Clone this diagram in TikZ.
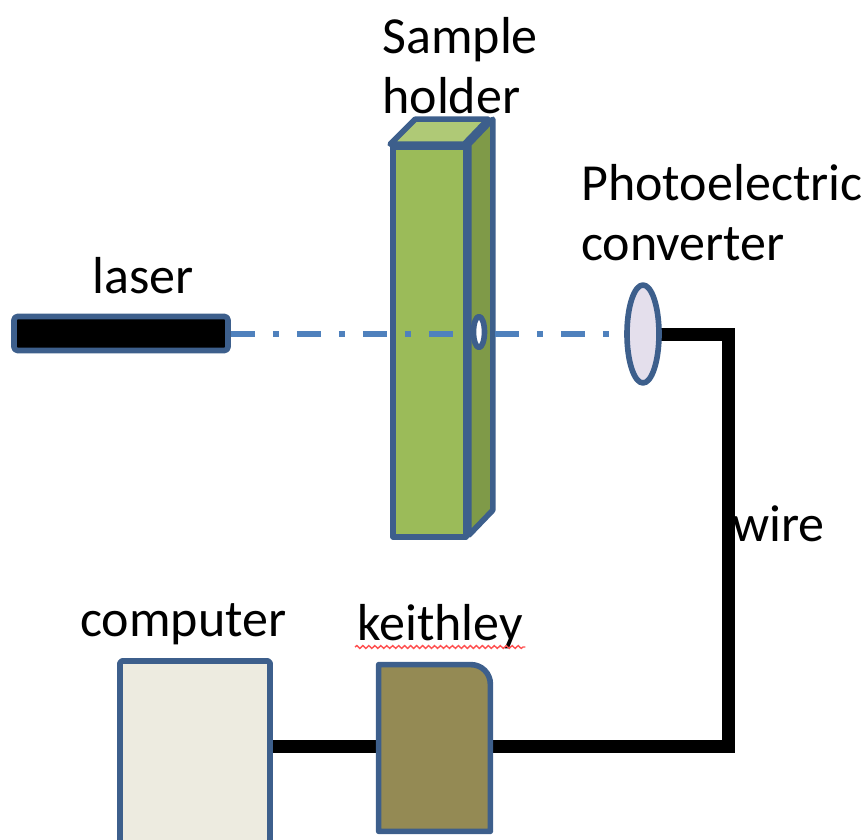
\documentclass[tikz,border=0pt]{standalone}
\usepackage{fontspec}
\setmainfont{Carlito}
\usepackage{xcolor}
\usetikzlibrary{shapes.geometric, backgrounds, calc, decorations.pathmorphing}
\definecolor{EdgeBlue}{HTML}{3D5F8C}
\definecolor{BeamBlue}{HTML}{4F81BD}
\definecolor{HolderFront}{HTML}{9BBB59}
\definecolor{HolderTop}{HTML}{AFC976}
\definecolor{HolderSide}{HTML}{7F9A48}
\definecolor{ComputerFill}{HTML}{EDEBE0}
\definecolor{KeithleyFill}{HTML}{948A54}
\definecolor{ConverterFill}{HTML}{E4DFEC}
\definecolor{SpellRed}{HTML}{FF5050}
\tikzset{
    devbox/.style={draw=EdgeBlue, line width=3.2pt, inner sep=0pt, line join=round},
    caption/.style={inner sep=0pt, anchor=base west, align=left,
                    font=\fontsize{29.6}{34.6}\selectfont},
    wireline/.style={line width=7.4pt, black},
}

\begin{document}
\begin{tikzpicture}[x=0.2mm, y=-0.2mm]
\path[use as bounding box, clip] (0,0) rectangle (868,840);

% laser and sample holder
\node[devbox, rectangle, rounded corners=2pt, fill=black,
      minimum width=42.8mm, minimum height=6.8mm] (laser) at (121,333.5) {};
\node[devbox, rectangle, fill=HolderFront,
      minimum width=14.6mm, minimum height=78mm] (holder) at (429.5,342) {};
\draw[devbox, fill=HolderTop] (holder.north west) -- ++(25,-25) -- ++(73,0) -- ++(-24,25) -- cycle;
\draw[devbox, fill=HolderSide] (holder.north east) -- ++(24,-25) -- ++(0,391) -- ++(-24,25) -- cycle;

% converter at the end of the beam
\node[devbox, ellipse, fill=ConverterFill,
      minimum width=6.4mm, minimum height=19.6mm] (converter) at (643,334) {};
\draw[BeamBlue, line width=2.9pt, dash pattern=on 13.66pt off 10.24pt on 3.41pt off 10.24pt]
    (laser.east |- converter.west) -- (converter.west);
\node[devbox, ellipse, fill=white,
      minimum width=2.2mm, minimum height=6.2mm] (hole) at (479,332) {};

% computer and keithley
\node[devbox, rectangle, rounded corners=1pt, fill=ComputerFill,
      minimum width=30mm, minimum height=40mm] (computer) at (195,761) {};
\node[inner sep=0pt, minimum width=22.2mm, minimum height=33.2mm] (keithley) at (434.5,748) {};
\draw[devbox, fill=KeithleyFill] (keithley.south west) -- (keithley.north west)
    [rounded corners=11pt] -- (keithley.north east) [sharp corners] -- (keithley.south east) -- cycle;

% wires go under the boxes
\coordinate (topbend) at (728,334.5);
\coordinate (lowbend) at (728,746.5);
\begin{scope}[on background layer]
\draw[wireline] (converter.center |- topbend) -- (topbend) -- (lowbend) -- (keithley.center |- lowbend);
\draw[wireline] (computer.center |- lowbend) -- (keithley.center |- lowbend);
\end{scope}

% labels
\node[caption] (holderlabel) at (382,114) {Sample\\holder};
\node[caption] (converterlabel) at (581,261) {Photoelectric\\converter};
\node[caption] (laserlabel) at (92,294) {laser};
\node[caption] (wirelabel) at (732,542) {wire};
\node[caption] (computerlabel) at (80,637) {computer};
\node[caption] (keithleylabel) at (357,641) {keithley};
\draw[SpellRed, line width=0.8pt, decorate, decoration={snake, amplitude=0.8pt, segment length=3.4pt}]
    ($(keithleylabel.base west)+(-2,6)$) -- ($(keithleylabel.base east)+(2,6)$);
\end{tikzpicture}
\end{document}
